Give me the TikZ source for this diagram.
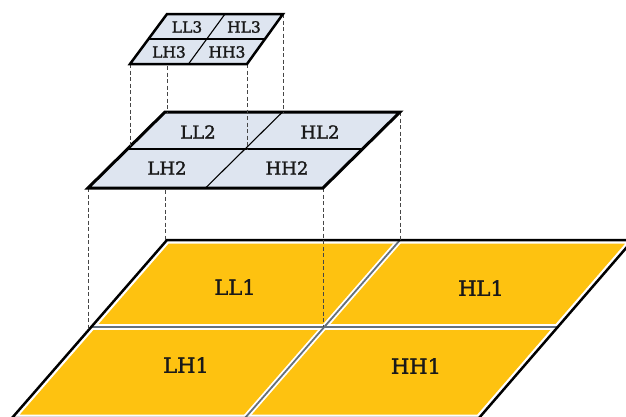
\documentclass[tikz,border=0pt]{standalone}
\usepackage{fontspec}
\setmainfont{DejaVu Serif}
\newfontfamily\lblfont{DejaVu Serif}[FakeBold=1.6]
\definecolor{goldfill}{RGB}{254,194,16}
\definecolor{paleblue}{RGB}{222,229,240}
\definecolor{divgray}{RGB}{100,112,125}
\definecolor{dashgray}{RGB}{70,70,70}
\definecolor{labeltext}{RGB}{25,25,25}
\tikzset{
  projline/.style={draw=dashgray, line width=1pt, dash pattern=on 4pt off 2.5pt},
  lvlone/.style={font=\lblfont\fontsize{21}{21}\selectfont, text=labeltext, inner sep=0pt},
  lvltwo/.style={font=\lblfont\fontsize{18}{18}\selectfont, text=labeltext, inner sep=0pt},
  lvlthree/.style={font=\lblfont\fontsize{15.5}{15.5}\selectfont, text=labeltext, inner sep=0pt},
  outlineone/.style={draw=black, line width=2.5pt, line join=miter},
  outlinetwo/.style={draw=black, line width=3pt, line join=miter},
  outlinethree/.style={draw=black, line width=2.5pt, line join=miter},
  thindiv/.style={draw=black, line width=1.1pt},
}
\begin{document}
\begin{tikzpicture}[x=1pt,y=-1pt]
\useasboundingbox (0,0) rectangle (626,416);
% ---------- level 1 coordinates
\coordinate (A1) at (167,240);
\coordinate (B1) at (633,240);
\coordinate (C1) at (479,418);
\coordinate (D1) at (12,418);
\coordinate (ML1) at (91,327);
\coordinate (MR1) at (557,327);
\coordinate (MT1) at (400,240);
\coordinate (MB1) at (245,418);
% ---------- level 2 coordinates
\coordinate (A2) at (165,112);
\coordinate (B2) at (400,112);
\coordinate (C2) at (323,188);
\coordinate (D2) at (88,188);
\coordinate (ML2) at (127.5,149);
\coordinate (MR2) at (361.5,149);
\coordinate (MT2) at (282.5,112);
\coordinate (MB2) at (205.5,188);
% ---------- level 3 coordinates
\coordinate (A3) at (167,14);
\coordinate (B3) at (283,14);
\coordinate (C3) at (247,64);
\coordinate (D3) at (130,64);
\coordinate (ML3) at (148.5,39);
\coordinate (MR3) at (265,39);
\coordinate (MT3) at (225,14);
\coordinate (MB3) at (188.5,64);
% ---------- projection end points
\coordinate (p2a) at (88,329);
\coordinate (p2b) at (165,240);
\coordinate (p2c) at (323,327);
\coordinate (p2d) at (400,240);
\coordinate (p3a) at (130,146.5);
\coordinate (p3b) at (167,112);
\coordinate (p3c) at (247,149);
\coordinate (p3d) at (283,112);

% ---------- level 1
\fill[goldfill] (A1) -- (B1) -- (C1) -- (D1) -- cycle;
\draw[white, line width=7pt, line join=round] (A1) -- (B1) -- (C1) -- (D1) -- cycle;
\draw[white, line width=5.5pt] (ML1) -- (MR1);
\draw[white, line width=5.5pt] (MT1) -- (MB1);
\draw[divgray, line width=1.8pt] (ML1) -- (MR1);
\draw[divgray, line width=1.8pt] (MT1) -- (MB1);
\draw[outlineone] (A1) -- (B1) -- (C1) -- (D1) -- cycle;
\node[lvlone] (ll1) at (235,287) {LL1};
\node[lvlone] (hl1) at (481,288) {HL1};
\node[lvlone] (lh1) at (186,365) {LH1};
\node[lvlone] (hh1) at (416,366) {HH1};

% ---------- projections level 2 -> level 1
\draw[projline] (D2) -- (p2a);
\draw[projline] (A2) -- (p2b);
\draw[projline] (C2) -- (p2c);
\draw[projline] (B2) -- (p2d);

% ---------- level 2
\fill[paleblue] (A2) -- (B2) -- (C2) -- (D2) -- cycle;
\draw[thindiv] (ML2) -- (MR2);
\draw[thindiv] (MT2) -- (MB2);
\draw[outlinetwo] (A2) -- (B2) -- (C2) -- (D2) -- cycle;
\node[lvltwo] (ll2) at (198,132) {LL2};
\node[lvltwo] (hl2) at (320,132) {HL2};
\node[lvltwo] (lh2) at (167,168) {LH2};
\node[lvltwo] (hh2) at (287,168) {HH2};

% ---------- projections level 3 -> level 2
\draw[projline] (D3) -- (p3a);
\draw[projline] (A3) -- (p3b);
\draw[projline] (C3) -- (p3c);
\draw[projline] (B3) -- (p3d);

% ---------- level 3
\fill[paleblue] (A3) -- (B3) -- (C3) -- (D3) -- cycle;
\draw[thindiv] (ML3) -- (MR3);
\draw[thindiv] (MT3) -- (MB3);
\draw[outlinethree] (A3) -- (B3) -- (C3) -- (D3) -- cycle;
\node[lvlthree] (ll3) at (187,27) {LL3};
\node[lvlthree] (hl3) at (244,27) {HL3};
\node[lvlthree] (lh3) at (169,52) {LH3};
\node[lvlthree] (hh3) at (227,52) {HH3};
\end{tikzpicture}
\end{document}
